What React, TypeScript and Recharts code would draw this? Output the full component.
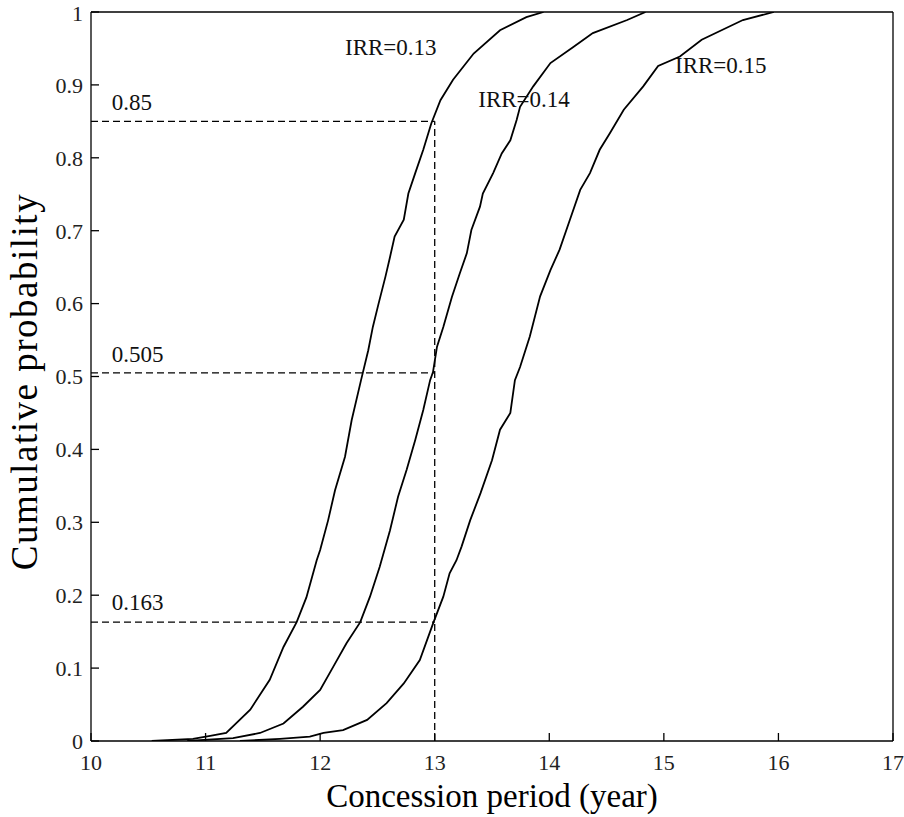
import React from 'react';
import { LineChart, Line, XAxis, YAxis, ReferenceLine, ReferenceDot, Label } from 'recharts';

// ---- data ----
const xTicks = [10, 11, 12, 13, 14, 15, 16, 17];
const yTicks = [0, 0.1, 0.2, 0.3, 0.4, 0.5, 0.6, 0.7, 0.8, 0.9, 1];
const yTickLabels = ['0', '0.1', '0.2', '0.3', '0.4', '0.5', '0.6', '0.7', '0.8', '0.9', '1'];

const irr13 = [
  { t: 10.53, p: 0 }, { t: 10.89, p: 0.003 }, { t: 11.04, p: 0.007 }, { t: 11.18, p: 0.011 },
  { t: 11.39, p: 0.043 }, { t: 11.56, p: 0.084 }, { t: 11.68, p: 0.129 }, { t: 11.795, p: 0.163 },
  { t: 11.88, p: 0.197 }, { t: 11.97, p: 0.248 }, { t: 12.0, p: 0.262 }, { t: 12.07, p: 0.303 },
  { t: 12.13, p: 0.344 }, { t: 12.217, p: 0.39 }, { t: 12.275, p: 0.44 }, { t: 12.357, p: 0.495 },
  { t: 12.42, p: 0.536 }, { t: 12.46, p: 0.568 }, { t: 12.51, p: 0.6 }, { t: 12.57, p: 0.637 },
  { t: 12.61, p: 0.664 }, { t: 12.65, p: 0.692 }, { t: 12.73, p: 0.715 }, { t: 12.77, p: 0.751 },
  { t: 12.83, p: 0.779 }, { t: 12.9, p: 0.811 }, { t: 12.97, p: 0.847 }, { t: 13.05, p: 0.879 },
  { t: 13.16, p: 0.907 }, { t: 13.34, p: 0.943 }, { t: 13.57, p: 0.975 }, { t: 13.8, p: 0.993 },
  { t: 13.95, p: 1.0 },
];

const irr14 = [
  { t: 10.84, p: 0 }, { t: 11.24, p: 0.004 }, { t: 11.475, p: 0.011 }, { t: 11.68, p: 0.024 },
  { t: 11.85, p: 0.047 }, { t: 12.0, p: 0.07 }, { t: 12.115, p: 0.102 }, { t: 12.23, p: 0.134 },
  { t: 12.35, p: 0.163 }, { t: 12.435, p: 0.198 }, { t: 12.52, p: 0.239 }, { t: 12.61, p: 0.289 },
  { t: 12.68, p: 0.335 }, { t: 12.755, p: 0.372 }, { t: 12.83, p: 0.413 }, { t: 12.9, p: 0.454 },
  { t: 12.96, p: 0.495 }, { t: 12.985, p: 0.506 }, { t: 13.02, p: 0.541 }, { t: 13.075, p: 0.568 },
  { t: 13.15, p: 0.609 }, { t: 13.22, p: 0.642 }, { t: 13.28, p: 0.669 }, { t: 13.32, p: 0.701 },
  { t: 13.395, p: 0.733 }, { t: 13.42, p: 0.751 }, { t: 13.51, p: 0.779 }, { t: 13.585, p: 0.806 },
  { t: 13.66, p: 0.824 }, { t: 13.715, p: 0.852 }, { t: 13.745, p: 0.87 }, { t: 13.86, p: 0.898 },
  { t: 14.01, p: 0.93 }, { t: 14.21, p: 0.952 }, { t: 14.38, p: 0.971 }, { t: 14.68, p: 0.989 },
  { t: 14.84, p: 1.0 },
];

const irr15 = [
  { t: 11.3, p: 0 }, { t: 11.65, p: 0.003 }, { t: 11.91, p: 0.006 }, { t: 12.03, p: 0.011 },
  { t: 12.2, p: 0.015 }, { t: 12.41, p: 0.029 }, { t: 12.58, p: 0.052 }, { t: 12.73, p: 0.079 },
  { t: 12.87, p: 0.111 }, { t: 12.99, p: 0.163 }, { t: 13.075, p: 0.198 }, { t: 13.13, p: 0.23 },
  { t: 13.19, p: 0.248 }, { t: 13.235, p: 0.267 }, { t: 13.31, p: 0.303 }, { t: 13.4, p: 0.34 },
  { t: 13.5, p: 0.385 }, { t: 13.57, p: 0.427 }, { t: 13.66, p: 0.45 }, { t: 13.7, p: 0.495 },
  { t: 13.745, p: 0.513 }, { t: 13.83, p: 0.555 }, { t: 13.92, p: 0.61 }, { t: 14.01, p: 0.646 },
  { t: 14.09, p: 0.674 }, { t: 14.18, p: 0.715 }, { t: 14.27, p: 0.756 }, { t: 14.355, p: 0.779 },
  { t: 14.44, p: 0.811 }, { t: 14.53, p: 0.834 }, { t: 14.65, p: 0.866 }, { t: 14.82, p: 0.898 },
  { t: 14.95, p: 0.926 }, { t: 15.14, p: 0.939 }, { t: 15.33, p: 0.962 }, { t: 15.69, p: 0.989 },
  { t: 15.96, p: 1.0 },
];

const refLevels = [0.85, 0.505, 0.163];
const refPeriod = 13;

const annotations = [
  { text: '0.85', t: 10.181, p: 0.8656 },
  { text: '0.505', t: 10.181, p: 0.52 },
  { text: '0.163', t: 10.181, p: 0.1797 },
  { text: 'IRR=0.13', t: 12.217, p: 0.941 },
  { text: 'IRR=0.14', t: 13.38, p: 0.87 },
  { text: 'IRR=0.15', t: 15.097, p: 0.916 },
];

const FONT = '"Liberation Serif", "Times New Roman", serif';

const AnnText = (text: string) => (props: any) => {
  const vb = props.viewBox || {};
  const x = (vb.x ?? 0) + (vb.width ?? 0) / 2;
  const y = (vb.y ?? 0) + (vb.height ?? 0) / 2;
  return (
    <text x={x} y={y} fontFamily={FONT} fontSize={23} fill="#111" textAnchor="start">
      {text}
    </text>
  );
};

const XTitle = (props: any) => {
  const vb = props.viewBox || {};
  const cx = vb.x + vb.width / 2;
  return (
    <text x={cx} y={807} fontFamily={FONT} fontSize={33} fill="#000" textAnchor="middle">
      Concession period (year)
    </text>
  );
};

const YTitle = (props: any) => {
  const vb = props.viewBox || {};
  const cx = 37;
  const cy = vb.y + vb.height / 2 + 5;
  return (
    <text
      x={cx}
      y={cy}
      transform={`rotate(-90 ${cx} ${cy})`}
      fontFamily={FONT}
      fontSize={37}
      letterSpacing={1.5}
      fill="#000"
      textAnchor="middle"
    >
      Cumulative probability
    </text>
  );
};

const axisStroke = { stroke: '#000', strokeWidth: 1.3 };
const tickStyle = { fontFamily: FONT, fontSize: 22, fill: '#222' };

export default function App() {
  return (
    <div style={{ position: 'absolute', left: 0, top: 0, width: 904, height: 817, background: '#fff' }}>
      <LineChart
        width={904}
        height={817}
        margin={{ top: 11, right: 10, left: 90, bottom: 75 }}
      >
        <XAxis
          xAxisId="b"
          dataKey="t"
          type="number"
          domain={[10, 17]}
          ticks={xTicks}
          allowDataOverflow
          height={1}
          tickSize={-8}
          tickMargin={21}
          axisLine={axisStroke}
          tickLine={axisStroke}
          tick={tickStyle}
        >
          <Label content={XTitle} />
        </XAxis>
        <XAxis
          xAxisId="top"
          orientation="top"
          dataKey="t"
          type="number"
          domain={[10, 17]}
          ticks={xTicks}
          allowDataOverflow
          height={1}
          tickSize={-8}
          axisLine={axisStroke}
          tickLine={axisStroke}
          tick={false}
        />
        <YAxis
          yAxisId="l"
          type="number"
          domain={[0, 1]}
          ticks={yTicks}
          tickFormatter={(v: number) => yTickLabels[yTicks.indexOf(v)] ?? String(v)}
          allowDataOverflow
          width={1}
          tickSize={-8}
          tickMargin={16}
          axisLine={axisStroke}
          tickLine={axisStroke}
          tick={tickStyle}
        >
          <Label content={YTitle} />
        </YAxis>
        <YAxis
          yAxisId="r"
          orientation="right"
          type="number"
          domain={[0, 1]}
          ticks={yTicks}
          allowDataOverflow
          width={1}
          tickSize={-8}
          axisLine={axisStroke}
          tickLine={axisStroke}
          tick={false}
        />

        {refLevels.map((lv) => (
          <ReferenceLine
            key={lv}
            xAxisId="b"
            yAxisId="l"
            segment={[{ x: 10, y: lv }, { x: refPeriod, y: lv }]}
            stroke="#000"
            strokeWidth={1.3}
            strokeDasharray="7 4"
          />
        ))}
        <ReferenceLine
          xAxisId="b"
          yAxisId="l"
          segment={[{ x: refPeriod, y: 0 }, { x: refPeriod, y: refLevels[0] }]}
          stroke="#000"
          strokeWidth={1.3}
          strokeDasharray="7 4"
        />

        <Line xAxisId="b" yAxisId="l" data={irr13} dataKey="p" type="linear" stroke="#000" strokeWidth={1.8} dot={false} isAnimationActive={false} />
        <Line xAxisId="b" yAxisId="l" data={irr14} dataKey="p" type="linear" stroke="#000" strokeWidth={1.8} dot={false} isAnimationActive={false} />
        <Line xAxisId="b" yAxisId="l" data={irr15} dataKey="p" type="linear" stroke="#000" strokeWidth={1.8} dot={false} isAnimationActive={false} />

        {annotations.map((a) => (
          <ReferenceDot
            key={a.text}
            xAxisId="b"
            yAxisId="l"
            x={a.t}
            y={a.p}
            r={1}
            fill="none"
            stroke="none"
            label={{ content: AnnText(a.text) }}
          />
        ))}
      </LineChart>
    </div>
  );
}
